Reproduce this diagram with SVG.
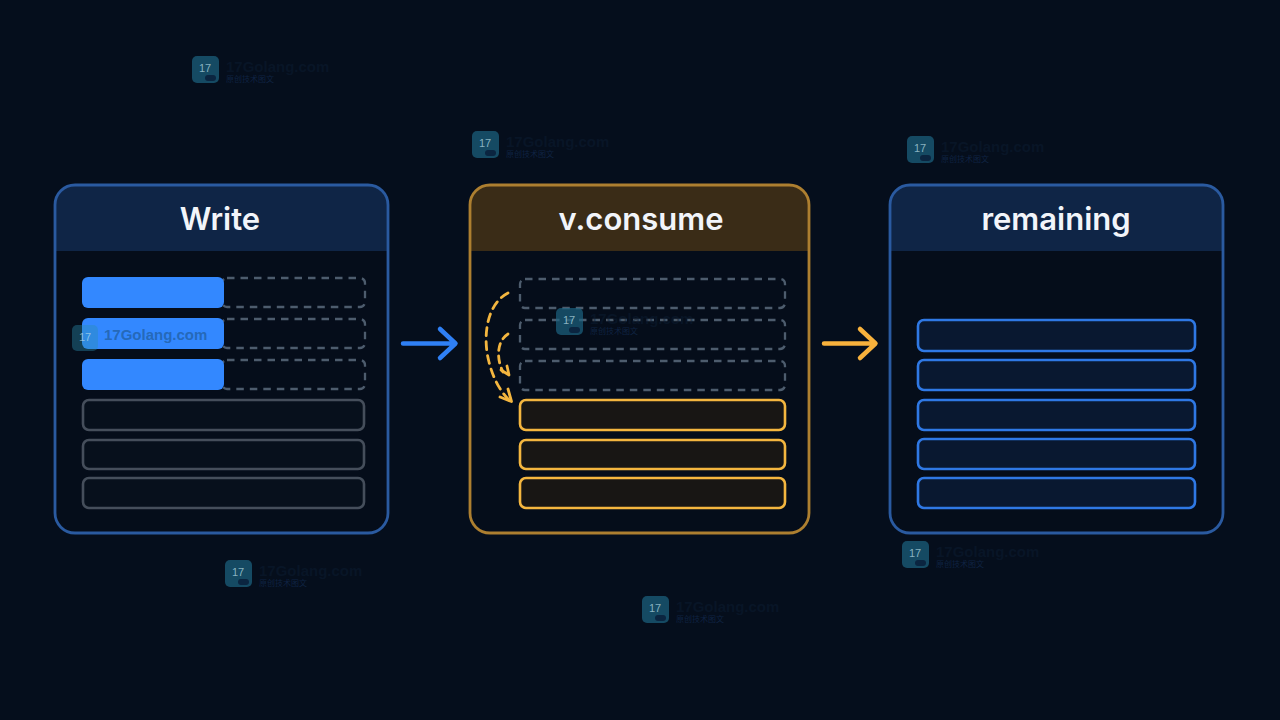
<svg xmlns="http://www.w3.org/2000/svg" width="1280" height="720" viewBox="0 0 1280 720">
<defs>
<symbol id="wm" overflow="visible">
<rect x="0" y="0" width="27" height="27" rx="5" fill="#1c6482" fill-opacity="0.7"/>
<text x="13" y="16" text-anchor="middle" font-family="'Liberation Sans',sans-serif" font-size="11" fill="#bfe0ea" fill-opacity="0.7">17</text>
<rect x="13" y="19" width="11" height="6" rx="3" fill="#0b2540"/>
<text x="34" y="16" font-family="'Liberation Sans',sans-serif" font-weight="700" font-size="15" fill="#0c1d32" fill-opacity="0.5">17Golang.com</text>
<text x="34" y="26" font-family="'Noto Sans CJK SC',sans-serif" font-size="8" fill="#12294d" fill-opacity="0.8">原创技术图文</text>
</symbol>
</defs>
<style>
.panel{fill:#050d1a}
.border{fill:none;stroke-width:2.800}
.title{font-family:Inter,'Noto Sans',sans-serif;font-size:31px;font-weight:600;fill:#f2f5fa;text-anchor:middle}
.fill{fill:#3388ff}
.dash{fill:none;stroke:#4d5c6d;stroke-width:2.300;stroke-dasharray:7.500 6}
.gray{fill:#07101c;stroke:#454e5b;stroke-width:2.600}
.amber{fill:#181614;stroke:#f4b63f;stroke-width:2.600}
.blue{fill:#091830;stroke:#2f78e4;stroke-width:2.600}
.arr{fill:none;stroke-width:4.500;stroke-linecap:round;stroke-linejoin:round}
.cur{fill:none;stroke:#f4b63f;stroke-width:2.800;stroke-linecap:round;stroke-linejoin:round}
</style>
<rect width="1280" height="720" fill="#050e1c"/>

<g id="watermarks-back">
<use href="#wm" x="192" y="56"/>
<use href="#wm" x="472" y="131"/>
<use href="#wm" x="907" y="136"/>
<use href="#wm" x="225" y="560"/>
<use href="#wm" x="642" y="596"/>
<use href="#wm" x="902" y="541"/>
</g>

<g id="write">
<rect class="panel" x="55" y="185" width="333" height="348" rx="20"/>
<path d="M55 251V205a20 20 0 0 1 20-20H368a20 20 0 0 1 20 20V251Z" fill="#0f2546"/>
<rect class="border" x="55" y="185" width="333" height="348" rx="20" stroke="#2a5aa0"/>
<text class="title" x="220" y="230">Write</text>
<rect class="dash" x="222" y="278" width="143" height="29" rx="5"/>
<rect class="dash" x="222" y="319" width="143" height="29" rx="5"/>
<rect class="dash" x="222" y="360" width="143" height="29" rx="5"/>
<rect class="fill" x="82" y="277" width="142" height="31" rx="6"/>
<rect class="fill" x="82" y="318" width="142" height="31" rx="6"/>
<rect class="fill" x="82" y="359" width="142" height="31" rx="6"/>
<rect class="gray" x="83" y="400" width="281" height="30" rx="6"/>
<rect class="gray" x="83" y="440" width="281" height="29" rx="6"/>
<rect class="gray" x="83" y="478" width="281" height="30" rx="6"/>
</g>

<g id="consume">
<rect class="panel" x="470" y="185" width="339" height="348" rx="20"/>
<path d="M470 251V205a20 20 0 0 1 20-20H789a20 20 0 0 1 20 20V251Z" fill="#3a2c17"/>
<rect class="border" x="470" y="185" width="339" height="348" rx="20" stroke="#ad7f30"/>
<text class="title" x="641" y="230">v.consume</text>
<rect class="dash" x="520" y="279" width="265" height="29" rx="5"/>
<rect class="dash" x="520" y="320" width="265" height="29" rx="5"/>
<rect class="dash" x="520" y="361" width="265" height="29" rx="5"/>
<rect class="amber" x="520" y="400" width="265" height="30" rx="6"/>
<rect class="amber" x="520" y="440" width="265" height="29" rx="6"/>
<rect class="amber" x="520" y="478" width="265" height="30" rx="6"/>
</g>

<g id="remaining">
<rect class="panel" x="890" y="185" width="333" height="348" rx="20"/>
<path d="M890 251V205a20 20 0 0 1 20-20H1203a20 20 0 0 1 20 20V251Z" fill="#0f2546"/>
<rect class="border" x="890" y="185" width="333" height="348" rx="20" stroke="#2a5aa0"/>
<text class="title" x="1056" y="230">remaining</text>
<rect class="blue" x="918" y="320" width="277" height="31" rx="6"/>
<rect class="blue" x="918" y="360" width="277" height="30" rx="6"/>
<rect class="blue" x="918" y="400" width="277" height="30" rx="6"/>
<rect class="blue" x="918" y="439" width="277" height="30" rx="6"/>
<rect class="blue" x="918" y="478" width="277" height="30" rx="6"/>
</g>

<g id="connectors">
<path class="arr" stroke="#2f80f5" d="M403 343.500H455M440 329L455.500 343.500L440 358"/>
<path class="arr" stroke="#f9b23c" d="M824 343.500H875M860 329L875.500 343.500L860 358"/>
<path class="cur" stroke-dasharray="8 6" d="M508 293C485 305 483 340 489 362C493 378 500 391 509 400"/>
<path class="cur" d="M500 397L511.500 401.500L508 389"/>
<path class="cur" stroke-dasharray="7 5.500" d="M508 334C497 341 496 358 503 372"/>
<path class="cur" d="M501 370L509 375L507 366"/>
</g>

<g id="watermarks-front">
<use href="#wm" x="556" y="308"/>
<g id="watermark-write">
<rect x="72" y="325" width="26" height="26" rx="5" fill="#2a8fb0" fill-opacity="0.4"/>
<text x="85" y="341" text-anchor="middle" font-family="'Liberation Sans',sans-serif" font-size="11" fill="#bfe0ea" fill-opacity="0.65">17</text>
<text x="104" y="340" font-family="'Liberation Sans',sans-serif" font-weight="700" font-size="15" fill="#2465b0" fill-opacity="0.9">17Golang.com</text>
</g>
</g>
</svg>
